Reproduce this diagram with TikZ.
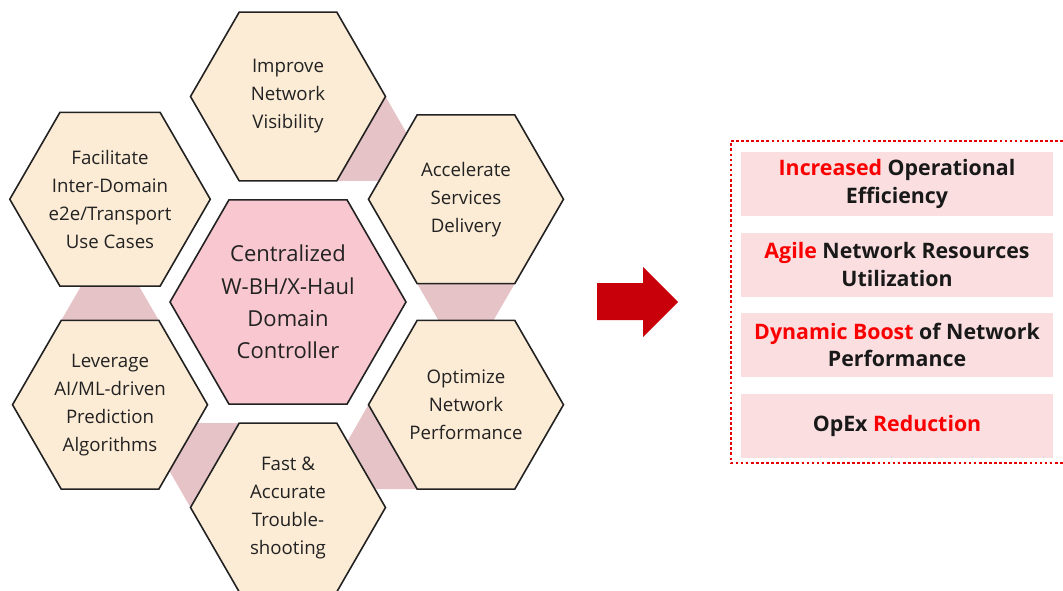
\documentclass[tikz,border=0pt]{standalone}
\usepackage{fontspec}
\setmainfont{Open Sans}
\usetikzlibrary{shapes.geometric, positioning, calc, backgrounds}

\definecolor{hexcream}{RGB}{252,236,214}
\definecolor{ctrpink}{RGB}{248,199,207}
\definecolor{shadowpink}{RGB}{229,195,199}
\definecolor{boxpink}{RGB}{250,222,224}
\definecolor{gainred}{RGB}{250,0,0}
\definecolor{arrowred}{RGB}{200,0,10}
\definecolor{framered}{RGB}{228,0,0}
\definecolor{inkgray}{RGB}{34,34,34}

\tikzset{
  hexa/.style={regular polygon, regular polygon sides=6, draw=inkgray, line width=1.2pt,
    fill=hexcream, inner sep=0pt, minimum size=146.25pt, align=center, text=inkgray,
    font=\fontsize{14}{21}\selectfont},
  ctrhex/.style={hexa, fill=ctrpink, minimum size=177pt, font=\fontsize{16.5}{24.2}\selectfont},
  gainbox/.style={fill=boxpink, minimum width=234pt, minimum height=48pt, align=center,
    text=black!90, font=\bfseries\fontsize{16}{20.5}\selectfont}
}

\begin{document}
\begin{tikzpicture}[x=0.75pt, y=0.75pt]
    \useasboundingbox (0,0) rectangle (1063,590);

    % Controller and its ring of goals
    \node[ctrhex] (ctrl) at (288,288) {Centralized\\W-BH/X-Haul\\Domain\\Controller};
    \node[hexa] (vis) at ($(ctrl.center)+(90:205.5)$) {Improve\\Network\\Visibility};
    \node[hexa] (acc) at ($(ctrl.center)+(30:205.5)$) {Accelerate\\Services\\Delivery};
    \node[hexa] (opt) at ($(ctrl.center)+(-30:205.5)$) {Optimize\\Network\\Performance};
    \node[hexa] (fast) at ($(ctrl.center)+(-90:205.5)$) {Fast \&\\Accurate\\Trouble-\\shooting};
    \node[hexa] (ai) at ($(ctrl.center)+(-150:205.5)$) {Leverage\\AI/ML-driven\\Prediction\\Algorithms};
    \node[hexa] (e2e) at ($(ctrl.center)+(150:205.5)$) {Facilitate\\Inter-Domain\\e2e/Transport\\Use Cases};

    % Shadows in the gaps
    \begin{scope}[on background layer]
        \foreach \n/\a in {vis/90, acc/30, opt/-30, fast/-90, ai/-150}
            \fill[shadowpink] ($(\n.center)+(\a-150:97.5)$) -- ($(\n.center)+(\a-90:97.5)$)
                -- ($(\n.center)+(\a-107.2:124.2)$) -- ($(\n.center)+(\a-132.8:124.2)$) -- cycle;
    \end{scope}

    % Block arrow
    \fill[arrowred] (597,270) -- (643,270) -- (643,253) -- (678,288) -- (643,323)
        -- (643,307) -- (597,307) -- cycle;

    % Benefits
    \draw[framered, line width=2pt, dash pattern=on 2pt off 1.8pt]
        (1063,449) -- (731,449) -- (731,127) -- (1063,127);
    \node[gainbox] (eff) at (897,406) {{\color{gainred}Increased} Operational\\Efficiency};
    \node[gainbox, below=12pt of eff] (agile) {{\color{gainred}Agile} Network Resources\\Utilization};
    \node[gainbox, below=12pt of agile] (boost) {{\color{gainred}Dynamic Boost} of Network\\Performance};
    \node[gainbox, below=12pt of boost] (opex) {OpEx {\color{gainred}Reduction}};
\end{tikzpicture}
\end{document}
